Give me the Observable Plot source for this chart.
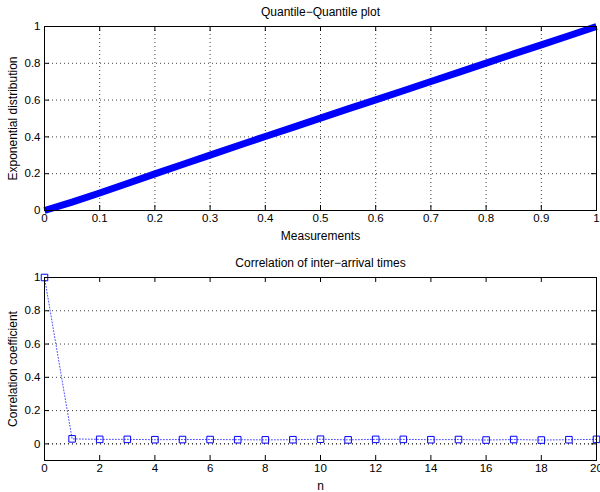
<!DOCTYPE html>
<html><head><meta charset="utf-8">
<script src="https://cdn.jsdelivr.net/npm/d3@7"></script>
<script src="https://cdn.jsdelivr.net/npm/@observablehq/plot@0.6"></script>
<style>
body{margin:0;background:#fff}
#c{width:600px;height:492px}
#c svg{display:block;overflow:visible}
</style>
</head><body><div id="c"></div>
<script>
// Quantile-Quantile data
const qqMeasurements = [0,0.05,0.1,0.15,0.2,0.25,0.3,0.35,0.4,0.45,0.5,0.55,0.6,0.65,0.7,0.75,0.8,0.85,0.9,0.95,1];
const qqExponential  = [0,0.046,0.095,0.147,0.199,0.25,0.301,0.352,0.402,0.452,0.502,0.552,0.601,0.651,0.701,0.751,0.801,0.851,0.9,0.95,1];
// Correlation data
const lagN = [0,1,2,3,4,5,6,7,8,9,10,11,12,13,14,15,16,17,18,19,20];
const corrCoef = [1,0.03,0.027,0.027,0.025,0.026,0.026,0.025,0.024,0.025,0.028,0.024,0.027,0.027,0.025,0.026,0.023,0.026,0.023,0.025,0.027];
// Tick values
const qqXTicks = [0,0.1,0.2,0.3,0.4,0.5,0.6,0.7,0.8,0.9,1];
const qqYTicks = [0,0.2,0.4,0.6,0.8,1];
const corrXTicks = [0,2,4,6,8,10,12,14,16,18,20];
const corrYTicks = [0,0.2,0.4,0.6,0.8,1];

const FONT = "'Liberation Sans', Arial, Helvetica, sans-serif";
const W = 600, H = 246;
const fmt = d => String(+d.toFixed(2));

function subplot({xDomain, yDomain, xTicks, yTicks, xGrid, mT, mB, titleGap, title, xLabel, yLabel, marks}) {
  const mL = 44, mR = 4;
  const fw = W - mL - mR, fh = H - mT - mB;
  const gridStyle = {stroke: "#000", strokeOpacity: 0.75, strokeDasharray: "1,3", strokeWidth: 1};
  const innerX = xTicks.filter(t => t !== xDomain[0] && t !== xDomain[1]);
  const innerY = yTicks.filter(t => t !== yDomain[0] && t !== yDomain[1]);
  return Plot.plot({
    width: W, height: H,
    marginLeft: mL, marginRight: mR, marginTop: mT, marginBottom: mB,
    style: {fontFamily: FONT, fontSize: "11.5px", color: "#000", background: "#fff", overflow: "visible"},
    x: {domain: xDomain},
    y: {domain: yDomain},
    marks: [
      xGrid ? Plot.ruleX(innerX, {x: d => d, ...gridStyle}) : null,
      Plot.ruleY(innerY, {y: d => d, ...gridStyle}),
      ...marks,
      Plot.ruleX(xTicks, {x: d => d, stroke: "#000", insetTop: fh - 5}),
      Plot.ruleX(xTicks, {x: d => d, stroke: "#000", insetBottom: fh - 5}),
      Plot.ruleY(yTicks, {y: d => d, stroke: "#000", insetRight: fw - 5}),
      Plot.ruleY(yTicks, {y: d => d, stroke: "#000", insetLeft: fw - 5}),
      Plot.frame({stroke: "#000", strokeWidth: 1}),
      Plot.axisX({ticks: xTicks, tickSize: 0, tickPadding: 3, tickFormat: fmt, label: null, fontSize: 11.5}),
      Plot.axisY({ticks: yTicks, tickSize: 0, tickPadding: 4, tickFormat: fmt, label: null, fontSize: 11.5}),
      Plot.text([title], {text: d => d, frameAnchor: "top", dy: -titleGap, textAnchor: "middle", lineAnchor: "middle", fontSize: 12, fill: "#000"}),
      Plot.text([xLabel], {text: d => d, frameAnchor: "bottom", dy: 26, textAnchor: "middle", lineAnchor: "middle", fontSize: 12, fill: "#000"}),
      Plot.text([yLabel], {text: d => d, frameAnchor: "left", dx: -31, rotate: -90, textAnchor: "middle", lineAnchor: "middle", fontSize: 12, fill: "#000"})
    ]
  });
}

const qqData = qqMeasurements.map((m, i) => ({m, e: qqExponential[i]}));
const corrData = lagN.map((n, i) => ({n, c: corrCoef[i]}));

const topPlot = subplot({
  xDomain: [0, 1], yDomain: [0, 1], xTicks: qqXTicks, yTicks: qqYTicks, xGrid: true,
  mT: 26, mB: 36, titleGap: 14,
  title: "Quantile\u2212Quantile plot", xLabel: "Measurements", yLabel: "Exponential distribution",
  marks: [Plot.line(qqData, {x: "m", y: "e", stroke: "#0000ff", strokeWidth: 7, strokeLinecap: "butt", clip: false})]
});

const bottomPlot = subplot({
  xDomain: [0, 20], yDomain: [-0.1, 1], xTicks: corrXTicks, yTicks: corrYTicks, xGrid: false,
  mT: 31, mB: 32, titleGap: 14,
  title: "Correlation of inter\u2212arrival times", xLabel: "n", yLabel: "Correlation coefficient",
  marks: [
    Plot.ruleY([0], {y: d => d, stroke: "#000", strokeOpacity: 0.75, strokeDasharray: "1,3"}),
    Plot.line(corrData, {x: "n", y: "c", stroke: "#0000ff", strokeOpacity: 0.7, strokeWidth: 1, strokeDasharray: "1,2"}),
    Plot.dot(corrData, {x: "n", y: "c", symbol: "square", r: 3.7, stroke: "#0000ff", strokeWidth: 1, fill: "none"})
  ]
});

document.getElementById("c").append(topPlot, bottomPlot);
</script>
</body></html>
